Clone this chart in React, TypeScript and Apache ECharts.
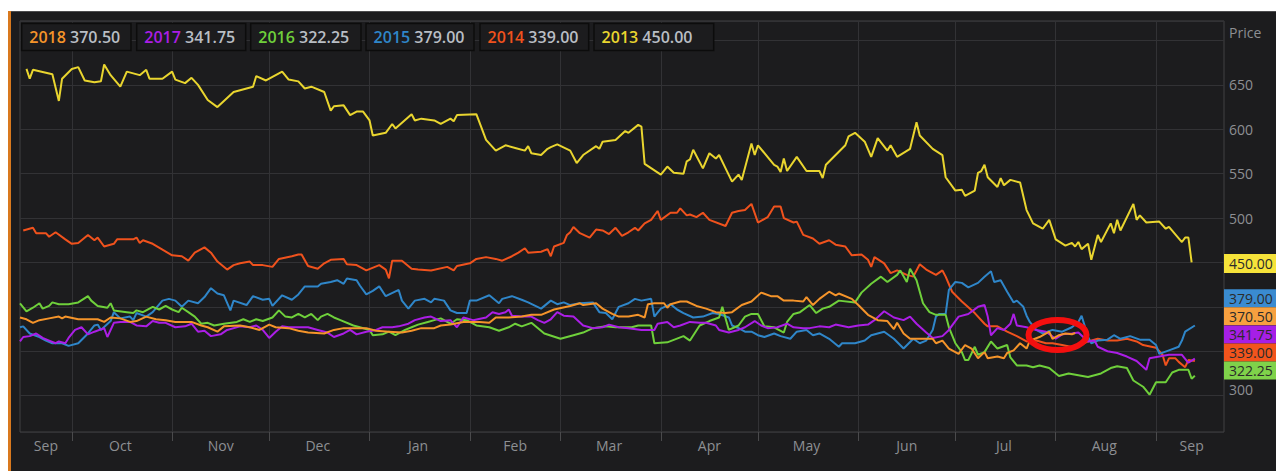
import React, { useEffect, useRef } from "react";
import * as echarts from "echarts";

// ---------- data ----------
const seriesYears = ["2013", "2014", "2015", "2016", "2017", "2018"];
const legendYears = ["2018", "2017", "2016", "2015", "2014", "2013"];
const monthNames = ["Jan", "Feb", "Mar", "Apr", "May", "Jun", "Jul", "Aug", "Sep", "Oct", "Nov", "Dec"];
const yTickLabels = [300, 500, 550, 600, 650];
const axisStart = Date.UTC(2018, 8, 15);
const dayCount = 373;
const categories: string[] = Array.from({ length: dayCount }, (_, i) =>
  new Date(axisStart + i * 86400000).toISOString().slice(0, 10)
);

// [day index on the axis, price]
const y2013: [number, number][] = [[2,668],[3,657],[4,667],[10,662],[12,632],[13,657],[16,668],[18,670],[20,655],[23,653],[25,654],[26,673],[28,661],[31,648],[33,665],[37,661],[39,667],[40,657],[44,657],[47,665],[48,656],[51,652],[53,658],[55,650],[58,633],[61,625],[66,642],[72,648],[73,660],[76,655],[81,665],[83,656],[86,654],[88,646],[90,648],[94,642],[96,621],[97,626],[100,627],[102,616],[104,620],[106,620],[108,610],[109,593],[113,596],[115,606],[116,601],[121,617],[122,610],[124,612],[128,610],[130,606],[133,612],[134,609],[135,616],[141,617],[144,588],[147,576],[150,582],[153,579],[156,576],[157,581],[158,573],[161,571],[163,578],[164,580],[166,583],[170,576],[172,562],[174,571],[178,581],[179,578],[180,586],[184,588],[187,598],[188,596],[191,605],[192,603],[193,561],[198,549],[200,558],[202,551],[205,550],[206,564],[207,566],[208,577],[211,556],[213,573],[215,567],[216,571],[218,556],[220,541],[222,549],[223,543],[226,584],[227,571],[228,582],[233,560],[234,558],[235,552],[236,567],[237,553],[240,569],[243,553],[247,553],[248,545],[249,560],[255,582],[256,592],[258,596],[261,586],[263,569],[265,590],[268,576],[269,582],[271,569],[275,578],[277,608],[278,593],[282,578],[285,571],[286,546],[289,531],[291,532],[292,525],[295,531],[296,551],[297,553],[298,560],[299,546],[302,535],[303,545],[304,537],[306,543],[309,540],[311,509],[313,494],[316,488],[318,498],[320,476],[323,469],[325,472],[326,468],[327,473],[328,465],[330,471],[331,453],[333,481],[334,473],[337,494],[338,483],[339,498],[340,486],[344,516],[345,498],[346,503],[348,495],[352,496],[354,488],[355,490],[359,473],[360,478],[361,478],[362,450]];

const y2014: [number, number][] = [[1,486],[4,489],[5,483],[8,483],[9,479],[11,484],[14,476],[16,471],[18,472],[21,481],[23,475],[24,478],[26,468],[29,471],[30,476],[35,476],[36,478],[37,472],[38,475],[41,471],[47,458],[50,457],[52,452],[54,461],[57,467],[59,461],[61,451],[64,442],[66,447],[68,449],[71,451],[72,447],[75,447],[78,445],[80,454],[84,457],[86,459],[87,459],[89,446],[92,443],[94,449],[96,453],[100,454],[101,448],[104,447],[107,441],[111,447],[113,442],[114,432],[115,452],[118,452],[121,443],[123,442],[127,441],[132,445],[134,441],[135,446],[139,449],[141,454],[144,456],[147,454],[149,452],[152,457],[154,461],[156,466],[157,461],[161,462],[163,465],[164,457],[165,468],[168,472],[169,481],[170,484],[171,490],[173,483],[176,478],[178,487],[180,486],[182,482],[184,489],[186,480],[188,484],[190,489],[191,486],[193,494],[195,498],[197,508],[198,498],[201,506],[203,506],[204,511],[206,503],[207,504],[209,501],[211,506],[213,498],[218,491],[220,506],[222,508],[224,509],[226,516],[228,495],[231,501],[233,513],[235,513],[236,500],[239,495],[240,496],[242,481],[245,477],[247,471],[250,475],[252,470],[255,468],[257,458],[260,459],[262,453],[263,445],[264,456],[267,449],[269,438],[271,441],[274,436],[276,434],[278,448],[280,442],[283,436],[285,441],[286,434],[288,417],[291,406],[295,393],[298,381],[299,378],[302,378],[305,372],[308,367],[311,361],[314,362],[317,359],[319,359],[322,357],[326,354],[330,361],[333,364],[336,362],[339,362],[342,364],[345,361],[347,357],[351,354],[353,346],[354,334],[355,342],[357,342],[358,338],[360,332],[361,340],[363,339]];

const y2015: [number, number][] = [[0,377],[1,378],[3,370],[6,366],[8,362],[10,359],[13,359],[15,356],[18,359],[21,370],[23,379],[24,380],[25,374],[28,384],[29,394],[31,387],[34,389],[35,385],[36,393],[39,389],[41,394],[44,407],[46,409],[48,407],[50,400],[52,407],[55,404],[57,411],[59,421],[61,415],[63,413],[65,396],[66,407],[70,402],[72,412],[75,408],[77,409],[78,401],[81,413],[84,408],[86,414],[88,423],[92,423],[93,426],[96,428],[98,430],[100,426],[101,432],[104,430],[105,424],[107,414],[109,418],[111,423],[113,412],[117,419],[118,407],[120,398],[122,407],[125,409],[127,405],[128,409],[131,407],[133,396],[135,393],[138,393],[139,407],[141,407],[145,413],[148,404],[149,409],[152,412],[155,408],[157,405],[161,398],[164,407],[166,403],[168,405],[170,402],[173,404],[177,405],[179,394],[181,393],[183,386],[185,400],[188,404],[190,409],[192,407],[195,409],[196,389],[198,398],[201,403],[203,397],[205,393],[208,388],[211,389],[214,393],[216,392],[219,388],[220,379],[222,376],[224,372],[226,372],[228,368],[230,366],[233,370],[235,367],[238,364],[240,372],[243,374],[245,368],[247,370],[250,364],[253,355],[254,359],[258,359],[261,362],[263,368],[267,372],[270,364],[273,353],[276,364],[278,359],[280,362],[281,368],[282,374],[283,389],[284,392],[286,392],[287,419],[289,428],[291,427],[293,422],[296,427],[298,434],[300,440],[301,428],[303,430],[305,417],[307,405],[308,407],[310,400],[311,390],[312,383],[314,374],[316,370],[319,374],[322,372],[325,377],[327,383],[328,390],[330,366],[331,359],[333,362],[336,363],[338,368],[340,364],[343,367],[346,363],[349,363],[351,357],[352,347],[355,351],[358,355],[359,362],[360,372],[363,379]];

const y2016: [number, number][] = [[0,404],[2,395],[4,399],[6,404],[7,398],[9,401],[10,405],[12,403],[15,403],[18,405],[21,412],[22,407],[24,401],[27,399],[28,404],[29,396],[33,394],[35,393],[36,396],[38,394],[41,400],[43,397],[45,401],[47,397],[49,394],[50,399],[52,394],[54,389],[56,381],[58,382],[60,379],[63,381],[67,383],[69,386],[71,383],[73,386],[75,384],[78,388],[80,396],[82,389],[84,388],[86,392],[88,388],[90,392],[92,385],[93,389],[95,392],[97,388],[99,385],[103,379],[105,377],[108,374],[109,368],[112,369],[114,372],[116,368],[119,374],[121,377],[123,380],[126,383],[128,385],[130,387],[133,381],[135,386],[138,385],[141,379],[145,377],[148,373],[151,377],[153,381],[155,378],[158,382],[162,370],[167,364],[171,368],[174,371],[177,376],[181,378],[184,377],[189,377],[191,379],[195,379],[196,359],[200,360],[205,367],[207,362],[210,379],[213,384],[216,388],[217,400],[219,374],[222,379],[224,389],[226,392],[228,392],[230,378],[233,377],[236,371],[237,383],[239,392],[241,394],[244,402],[246,393],[248,398],[250,400],[253,407],[258,405],[260,416],[263,426],[266,434],[268,428],[271,436],[272,441],[274,428],[275,443],[277,430],[279,404],[281,394],[283,391],[286,391],[287,377],[289,359],[291,349],[292,340],[293,340],[295,355],[296,346],[298,349],[300,361],[302,353],[305,357],[306,343],[308,334],[311,334],[313,332],[315,334],[318,331],[321,322],[324,325],[327,323],[330,321],[334,325],[337,331],[339,333],[342,331],[344,317],[347,310],[349,301],[351,315],[354,315],[356,326],[358,329],[361,329],[362,319],[363,322.25]];

const y2017: [number, number][] = [[0,361],[1,366],[3,367],[5,370],[7,365],[9,362],[11,359],[12,361],[14,359],[15,365],[17,374],[19,377],[21,369],[23,372],[26,376],[27,366],[29,382],[31,383],[34,383],[36,379],[39,378],[41,384],[43,382],[45,382],[48,377],[51,378],[53,381],[55,372],[57,373],[59,367],[62,369],[64,374],[68,378],[71,377],[73,379],[75,374],[77,365],[79,372],[81,378],[83,377],[86,377],[89,377],[92,374],[95,371],[97,366],[100,370],[102,374],[104,369],[107,372],[110,374],[112,377],[115,377],[117,378],[120,381],[122,385],[125,388],[127,389],[130,384],[133,385],[135,377],[137,388],[140,385],[144,388],[146,394],[148,392],[150,394],[151,397],[152,390],[155,389],[158,389],[160,385],[162,382],[164,386],[166,394],[168,390],[171,389],[174,379],[177,376],[180,377],[182,380],[185,377],[188,376],[192,374],[196,374],[197,381],[200,383],[202,377],[204,379],[207,383],[210,382],[212,382],[215,379],[216,374],[219,371],[222,374],[224,377],[227,384],[229,379],[231,376],[234,377],[237,381],[239,377],[242,376],[244,376],[247,378],[250,377],[252,380],[256,377],[259,379],[262,380],[264,385],[267,395],[270,388],[273,385],[275,389],[277,381],[280,371],[282,365],[285,367],[287,374],[290,389],[293,392],[296,400],[298,402],[299,389],[300,368],[302,376],[304,374],[306,381],[307,392],[308,379],[311,377],[314,374],[317,372],[320,364],[322,369],[325,370],[327,371],[330,361],[332,362],[333,355],[336,350],[339,348],[342,344],[345,339],[348,329],[349,342],[352,344],[355,346],[357,346],[359,346],[361,337],[363,341.75]];

const y2018: [number, number][] = [[0,388],[2,386],[4,382],[6,385],[9,387],[12,389],[13,387],[14,389],[18,386],[24,386],[26,383],[28,388],[31,387],[34,383],[36,384],[39,389],[42,386],[45,385],[48,383],[53,383],[56,379],[58,377],[61,372],[63,378],[68,379],[71,377],[74,374],[77,380],[79,377],[83,376],[86,373],[89,371],[94,370],[97,374],[100,376],[104,376],[107,376],[110,373],[114,372],[118,371],[121,373],[124,376],[128,376],[130,379],[133,380],[137,383],[142,383],[145,382],[147,388],[151,388],[155,389],[158,391],[161,391],[165,397],[170,401],[173,404],[174,402],[178,404],[180,398],[183,392],[185,389],[188,389],[191,391],[193,388],[194,403],[196,404],[199,404],[200,399],[201,403],[204,406],[206,406],[209,401],[212,398],[215,394],[218,393],[220,394],[223,402],[226,406],[229,416],[232,412],[234,412],[236,407],[239,407],[242,406],[243,411],[245,402],[247,409],[250,417],[252,413],[253,415],[257,409],[259,402],[262,391],[265,385],[268,384],[270,375],[271,382],[273,370],[275,364],[279,364],[282,364],[283,359],[285,362],[287,353],[290,347],[292,357],[294,353],[296,342],[298,349],[299,342],[302,344],[304,342],[305,348],[307,351],[309,359],[311,353],[312,362],[315,366],[318,372],[319,364],[321,368],[323,370],[325,369],[326,370.5]];

// ---------- styling ----------
const lineColors: Record<string, string> = {
  "2013": "#e9d52f",
  "2014": "#f0521d",
  "2015": "#2f86c9",
  "2016": "#6fd03b",
  "2017": "#ab1ee6",
  "2018": "#f5942a",
};
const tagColors: Record<string, string> = {
  "2013": "#f6e33a",
  "2014": "#f2541c",
  "2015": "#3a8bd0",
  "2016": "#7fd24a",
  "2017": "#a61fe6",
  "2018": "#f7a03f",
};
const seriesData: Record<string, [number, number][]> = {
  "2013": y2013, "2014": y2014, "2015": y2015, "2016": y2016, "2017": y2017, "2018": y2018,
};

const BG = "#1c1c1e";
const OX = 11; // chart div offset on page
const OY = 11;
const FONT = "Open Sans";

export default function App() {
  const ref = useRef<HTMLDivElement>(null);

  useEffect(() => {
    if (!ref.current) return;
    const chart = echarts.init(ref.current, null, { renderer: "svg" });

    const monthStarts = new Set<number>();
    categories.forEach((c, i) => { if (c.endsWith("-01")) monthStarts.add(i); });
    const starts = [0, ...Array.from(monthStarts).sort((a, b) => a - b), dayCount];
    const labelIdx = new Set<number>();
    for (let k = 0; k < starts.length - 1; k++) {
      labelIdx.add(Math.round((starts[k] + starts[k + 1] - 1) / 2));
    }

    const lastVal = (y: string) => {
      const d = seriesData[y];
      return d[d.length - 1][1].toFixed(2);
    };

    // legend boxes
    const boxLefts = [21.7, 136.7, 250.7, 366, 480, 594];
    const boxWidths = [109.3, 109, 110.3, 108, 108.7, 119.7];
    const legendEls: any[] = [];
    legendYears.forEach((y, i) => {
      legendEls.push({
        type: "rect",
        z: 100,
        shape: { x: boxLefts[i] - OX, y: 23.5 - OY, width: boxWidths[i], height: 27 },
        style: { fill: BG, stroke: "#0c0c0c", lineWidth: 1.5 },
      });
      legendEls.push({
        type: "text",
        z: 101,
        x: boxLefts[i] + 7.6 - OX,
        y: 37 - OY,
        style: {
          text: `{y|${y}} {v|${lastVal(y)}}`,
          verticalAlign: "middle",
          align: "left",
          fontFamily: FONT,
          fontSize: 16,
          fontWeight: 600,
          rich: {
            y: { fill: lineColors[y], fontFamily: FONT, fontSize: 16, fontWeight: 600 },
            v: { fill: "#b9bec4", fontFamily: FONT, fontSize: 16, fontWeight: 600 },
          },
        },
      });
    });

    // value tags on the right edge
    const tagOrder = ["2013", "2015", "2018", "2017", "2014", "2016"];
    const tagTops = [254, 289.3, 307.3, 325.5, 343.5, 361.5];
    const tagEls: any[] = [];
    tagOrder.forEach((y, i) => {
      tagEls.push({
        type: "rect",
        z: 100,
        shape: { x: 1224 - OX, y: tagTops[i] - OY, width: 60, height: y === "2013" ? 19 : 18 },
        style: { fill: tagColors[y] },
      });
      tagEls.push({
        type: "text",
        z: 101,
        x: 1229 - OX,
        y: tagTops[i] + (y === "2013" ? 9.5 : 9) - OY,
        style: {
          text: lastVal(y),
          fill: "#2b2b2b",
          fontFamily: FONT,
          fontSize: 14,
          verticalAlign: "middle",
          align: "left",
        },
      });
    });

    chart.setOption({
      animation: false,
      backgroundColor: BG,
      textStyle: { fontFamily: FONT },
      grid: {
        left: 20 - OX,
        right: 52,
        top: 21 - OY,
        bottom: 39,
        show: true,
        borderColor: "#414143",
        borderWidth: 1,
        backgroundColor: "transparent",
      },
      xAxis: {
        type: "category",
        data: categories,
        boundaryGap: false,
        axisLine: { show: false },
        axisTick: {
          show: true,
          interval: (i: number) => monthStarts.has(i),
          length: 9,
          lineStyle: { color: "#4a4a4c" },
        },
        axisLabel: {
          interval: (i: number) => labelIdx.has(i),
          formatter: (v: string) => monthNames[parseInt(v.slice(5, 7), 10) - 1],
          color: "#8d8f93",
          fontSize: 14,
          fontFamily: FONT,
          margin: 6,
        },
        splitLine: {
          show: true,
          interval: (i: number) => monthStarts.has(i),
          lineStyle: { color: "#323235", width: 1 },
        },
      },
      yAxis: {
        type: "value",
        position: "right",
        min: 259,
        max: 722,
        splitNumber: 9,
        axisLine: { show: false },
        axisTick: { show: false },
        axisLabel: {
          color: "#8d8f93",
          fontSize: 14,
          fontFamily: FONT,
          margin: 5,
          formatter: (v: number) => {
            if (!yTickLabels.includes(v)) return "";
            return v === 300 ? "{lo|300}" : String(v);
          },
          rich: {
            lo: { color: "#8d8f93", fontSize: 14, fontFamily: FONT, padding: [0, 0, 12, 0] },
          },
        },
        splitLine: { show: true, lineStyle: { color: "#323235", width: 1 } },
      },
      series: seriesYears.map((y) => ({
        name: y,
        type: "line",
        data: seriesData[y],
        showSymbol: false,
        symbol: "none",
        lineStyle: { color: lineColors[y], width: 2 },
        itemStyle: { color: lineColors[y] },
        emphasis: { disabled: true },
      })),
      graphic: [
        ...legendEls,
        ...tagEls,
        {
          type: "text",
          z: 101,
          x: 1229 - OX,
          y: 32 - OY,
          style: {
            text: "Price",
            fill: "#8d8f93",
            fontFamily: FONT,
            fontSize: 14,
            verticalAlign: "middle",
            align: "left",
          },
        },
        {
          type: "ellipse",
          z: 102,
          shape: { cx: 1057.5 - OX, cy: 335 - OY, rx: 29, ry: 15 },
          style: { fill: "transparent", stroke: "#f40f0f", lineWidth: 6 },
        },
      ],
    });

    return () => chart.dispose();
  }, []);

  return (
    <div style={{ position: "absolute", left: 0, top: 0, width: 1276, height: 471, background: "#ffffff", overflow: "hidden" }}>
      <div style={{ position: "absolute", left: 8, top: 11, width: 3, height: 460, background: "#d9791e" }} />
      <div ref={ref} style={{ position: "absolute", left: OX, top: OY, width: 1276 - OX, height: 471 - OY }} />
      <div style={{ position: "absolute", left: OX, top: OY, width: 1276 - OX, height: 1, background: "#4c4c4e", zIndex: 2 }} />
    </div>
  );
}
